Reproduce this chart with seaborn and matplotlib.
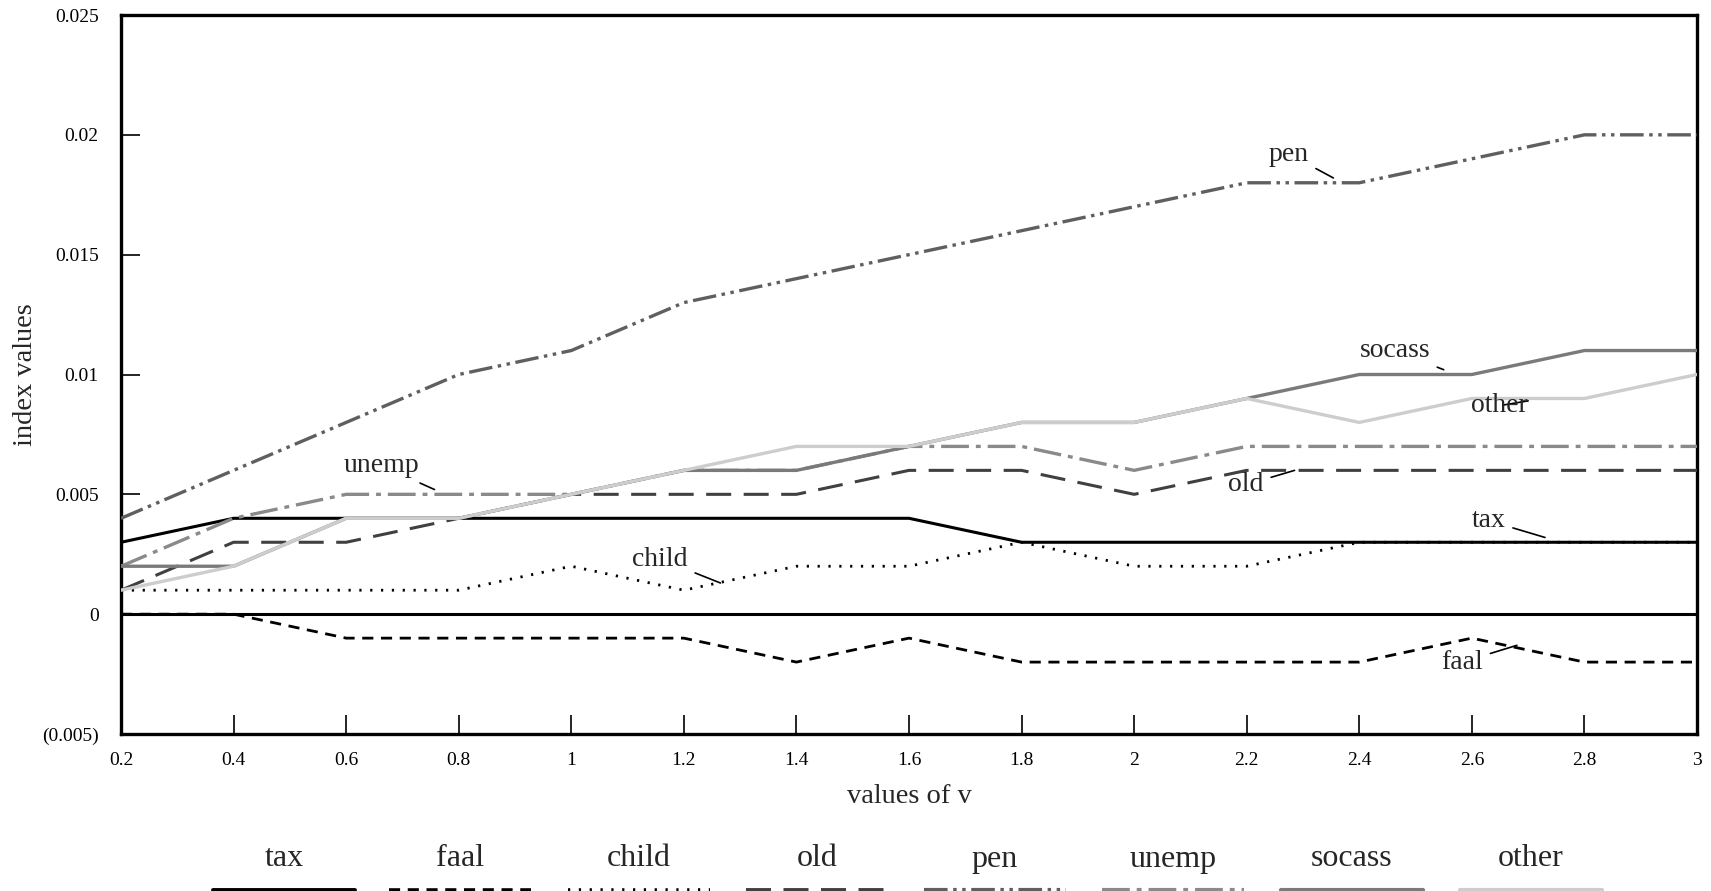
import numpy as np
import pandas as pd
import matplotlib
matplotlib.use("Agg")
import matplotlib.pyplot as plt
from matplotlib.lines import Line2D
from matplotlib.ticker import FuncFormatter, MultipleLocator
import seaborn as sns

# ---------------- data ----------------
v = [0.2, 0.4, 0.6, 0.8, 1.0, 1.2, 1.4, 1.6, 1.8, 2.0, 2.2, 2.4, 2.6, 2.8, 3.0]
tax    = [0.003, 0.004, 0.004, 0.004, 0.004, 0.004, 0.004, 0.004, 0.003, 0.003, 0.003, 0.003, 0.003, 0.003, 0.003]
faal   = [0.000, 0.000, -0.001, -0.001, -0.001, -0.001, -0.002, -0.001, -0.002, -0.002, -0.002, -0.002, -0.001, -0.002, -0.002]
child  = [0.001, 0.001, 0.001, 0.001, 0.002, 0.001, 0.002, 0.002, 0.003, 0.002, 0.002, 0.003, 0.003, 0.003, 0.003]
old    = [0.001, 0.003, 0.003, 0.004, 0.005, 0.005, 0.005, 0.006, 0.006, 0.005, 0.006, 0.006, 0.006, 0.006, 0.006]
pen    = [0.004, 0.006, 0.008, 0.010, 0.011, 0.013, 0.014, 0.015, 0.016, 0.017, 0.018, 0.018, 0.019, 0.020, 0.020]
unemp  = [0.002, 0.004, 0.005, 0.005, 0.005, 0.006, 0.006, 0.007, 0.007, 0.006, 0.007, 0.007, 0.007, 0.007, 0.007]
socass = [0.002, 0.002, 0.004, 0.004, 0.005, 0.006, 0.006, 0.007, 0.008, 0.008, 0.009, 0.010, 0.010, 0.011, 0.011]
other  = [0.001, 0.002, 0.004, 0.004, 0.005, 0.006, 0.007, 0.007, 0.008, 0.008, 0.009, 0.008, 0.009, 0.009, 0.010]
series_names = ["tax", "faal", "child", "old", "pen", "unemp", "socass", "other"]
series_values = [tax, faal, child, old, pen, unemp, socass, other]
x_label = "values of v"
y_label = "index values"

# ---------------- styles ----------------
styles = {
    "tax":    dict(color="#000000", ls="-", lw=2.2),
    "faal":   dict(color="#000000", ls=(0, (8, 5.5)), lw=2.0),
    "child":  dict(color="#000000", ls=(0, (1.6, 6.2)), lw=2.0),
    "old":    dict(color="#404040", ls=(0, (18, 9)), lw=2.2),
    "pen":    dict(color="#5f5f5f", ls=(0, (17, 4, 2.5, 4, 2.5, 4)), lw=2.4),
    "unemp":  dict(color="#8a8a8a", ls=(0, (20, 5, 3.5, 5)), lw=2.4),
    "socass": dict(color="#7a7a7a", ls="-", lw=2.4),
    "other":  dict(color="#cdcdcd", ls="-", lw=2.4),
}
# annotation placements: (text x, text y, target x, target y)
annots = {
    "pen":    (2.275, 0.0192, 2.354, 0.0182),
    "socass": (2.463, 0.0110, 2.550, 0.0102),
    "other":  (2.649, 0.0087, 2.700, 0.0089),
    "old":    (2.199, 0.0054, 2.285, 0.0060),
    "tax":    (2.630, 0.0039, 2.730, 0.0032),
    "faal":   (2.583, -0.0020, 2.680, -0.0013),
    "child":  (1.158, 0.0023, 1.265, 0.0013),
    "unemp":  (0.662, 0.0062, 0.757, 0.0052),
}

sns.set_theme(style="ticks")
plt.rcParams["font.family"] = ["Liberation Serif", "DejaVu Serif"]
plt.rcParams["lines.scale_dashes"] = False

W, H = 1711, 891
fig = plt.figure(figsize=(W / 100, H / 100), dpi=100)
ax = fig.add_axes([121 / W, 1 - 734 / H, (1697 - 121) / W, (734 - 15) / H])

df = pd.DataFrame({"v": v})
for name, vals in zip(series_names, series_values):
    df[name] = vals

ax.axhline(0, color="black", lw=2.2, zorder=1)
for name in series_names:
    st = styles[name]
    sns.lineplot(data=df, x="v", y=name, ax=ax, color=st["color"],
                 linestyle=st["ls"], linewidth=st["lw"], zorder=3)

for name, (tx, ty, px, py) in annots.items():
    ax.annotate(name, xy=(px, py), xytext=(tx, ty), fontsize=20,
                ha="center", va="center",
                arrowprops=dict(arrowstyle="-", color="black", lw=1.2,
                                shrinkA=3, shrinkB=0))

ax.set_xlim(0.2, 3.0)
ax.set_ylim(-0.005, 0.025)
ax.xaxis.set_major_locator(MultipleLocator(0.2))
ax.yaxis.set_major_locator(MultipleLocator(0.005))

def xfmt(val, pos):
    return f"{val:.1f}".rstrip("0").rstrip(".")

def yfmt(val, pos):
    if abs(val) < 1e-12:
        return "0"
    s = f"{abs(val):.3f}".rstrip("0").rstrip(".")
    return f"({s})" if val < 0 else s

ax.xaxis.set_major_formatter(FuncFormatter(xfmt))
ax.yaxis.set_major_formatter(FuncFormatter(yfmt))
ax.tick_params(axis="both", direction="in", length=14, width=1.2,
               labelsize=14, colors="black")
ax.tick_params(axis="x", pad=13)
ax.tick_params(axis="y", pad=16)
for sp in ax.spines.values():
    sp.set_visible(True)
    sp.set_linewidth(2.4)
    sp.set_color("black")

ax.set_xlabel(x_label, fontsize=20.5, labelpad=11)
ax.set_ylabel(y_label, fontsize=20.5, labelpad=3)
ax.grid(False)

# ---------------- legend (labels above sample lines) ----------------
centers = [284, 460, 639, 817, 995, 1173, 1352, 1531]
half = 71
for name, xc in zip(series_names, centers):
    st = styles[name]
    fig.text(xc / W, 1 - 859 / H, name, ha="center", va="center", fontsize=23)
    fig.add_artist(Line2D([(xc - half) / W, (xc + half) / W],
                          [1 - 890 / H, 1 - 890 / H],
                          color=st["color"], linestyle=st["ls"],
                          linewidth=st["lw"] + 0.6, transform=fig.transFigure))

fig.savefig("out.png", dpi=100)
